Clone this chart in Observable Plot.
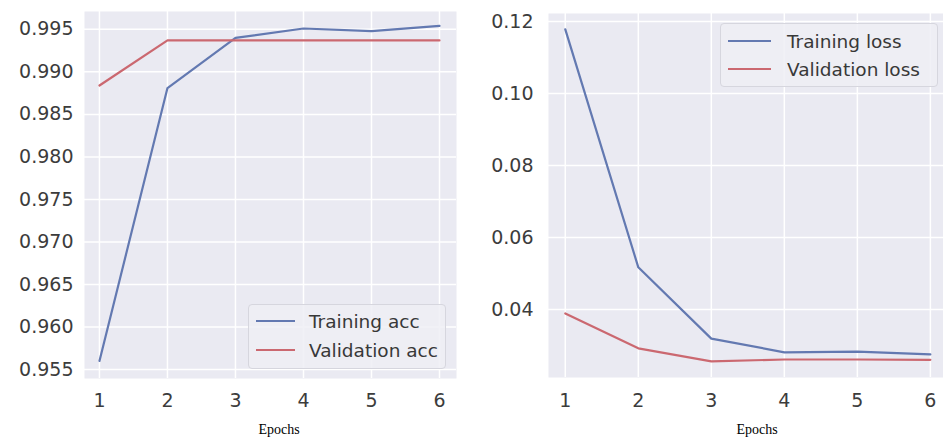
<!DOCTYPE html>
<html><head><meta charset="utf-8">
<script src="https://cdn.jsdelivr.net/npm/d3@7"></script>
<script src="https://cdn.jsdelivr.net/npm/@observablehq/plot@0.6"></script>
<style>
body{margin:0;background:#fff;}
#wrap{position:relative;width:943px;height:442px;overflow:hidden;font-family:"DejaVu Sans",sans-serif;}
.panel{position:absolute;top:0;}
.legend{position:absolute;box-sizing:border-box;border:1px solid #d6d6de;border-radius:4px;background:rgba(238,238,244,0.85);}
.row{position:absolute;left:0;height:28px;display:flex;align-items:center;font-size:18.5px;color:#383838;white-space:nowrap;}
.sw{display:inline-block;height:2px;}
.xl{position:absolute;font-family:"Liberation Serif",serif;font-size:14px;color:#000;transform:translate(-50%,-50%);}
</style></head>
<body><div id="wrap"></div>
<script>
const epochs = [1, 2, 3, 4, 5, 6];
const trainAcc = [0.9560, 0.9881, 0.9940, 0.9951, 0.9948, 0.9954];
const valAcc = [0.9884, 0.9937, 0.9937, 0.9937, 0.9937, 0.9937];
const trainLoss = [0.1178, 0.0517, 0.0319, 0.0281, 0.0283, 0.0275];
const valLoss = [0.0389, 0.0292, 0.0256, 0.0261, 0.0261, 0.0260];
const accTicks = [0.955, 0.960, 0.965, 0.970, 0.975, 0.980, 0.985, 0.990, 0.995];
const lossTicks = [0.04, 0.06, 0.08, 0.10, 0.12];
const accLabels = ["Training acc", "Validation acc"];
const lossLabels = ["Training loss", "Validation loss"];
const xLabel = "Epochs";

const BLUE = "#6379b1", RED = "#cb6870", BG = "#eaeaf2";
const wrap = document.getElementById("wrap");

function table(vals, series){ return epochs.map((e,i)=>({epoch:e, value:vals[i], series})); }

function panel(opts){
  const rows = [...table(opts.a, opts.labels[0]), ...table(opts.b, opts.labels[1])];
  const p = Plot.plot({
    width: opts.width, height: 442,
    marginLeft: opts.ml, marginRight: opts.mr, marginTop: opts.mt, marginBottom: opts.mb,
    x: {domain: opts.xd},
    y: {domain: opts.yd},
    color: {domain: opts.labels, range: [BLUE, RED]},
    style: {fontFamily: "DejaVu Sans", fontSize: "19px", color: "#3c3c3c", background: "transparent", overflow: "visible"},
    marks: [
      Plot.frame({fill: BG, stroke: "none"}),
      Plot.gridX(epochs, {stroke: "white", strokeOpacity: 1, strokeWidth: 1.5}),
      Plot.gridY(opts.ticks, {stroke: "white", strokeOpacity: 1, strokeWidth: 1.5}),
      Plot.axisX(epochs, {tickSize: 0, tickPadding: opts.xpad, label: null, fontSize: 19}),
      Plot.axisY(opts.ticks, {tickSize: 0, tickPadding: opts.ypad, label: null, fontSize: 19, tickFormat: opts.fmt}),
      Plot.line(rows, {x: "epoch", y: "value", stroke: "series", z: "series", strokeWidth: 2.2})
    ]
  });
  const div = document.createElement("div");
  div.className = "panel"; div.style.left = opts.left + "px";
  div.appendChild(p);
  wrap.appendChild(div);

  const lg = document.createElement("div");
  lg.className = "legend";
  Object.assign(lg.style, {left: opts.lg.x+"px", top: opts.lg.y+"px", width: opts.lg.w+"px", height: opts.lg.h+"px"});
  opts.labels.forEach((lab, i) => {
    const r = document.createElement("div");
    r.className = "row";
    r.style.top = (opts.lg.r0 + i*opts.lg.dr - 14) + "px";
    r.style.left = opts.lg.lx + "px";
    const sw = document.createElement("span");
    sw.className = "sw";
    sw.style.width = opts.lg.lw + "px";
    sw.style.background = [BLUE, RED][i];
    sw.style.marginRight = opts.lg.gap + "px";
    r.appendChild(sw);
    r.appendChild(document.createTextNode(lab));
    lg.appendChild(r);
  });
  wrap.appendChild(lg);

  const xl = document.createElement("div");
  xl.className = "xl"; xl.textContent = xLabel;
  xl.style.left = opts.xlx + "px"; xl.style.top = "430px";
  wrap.appendChild(xl);
}

panel({
  left: 0, width: 470, ml: 84, mr: 14, mt: 11, mb: 64,
  xd: [0.78, 6.25], yd: [0.95394, 0.9971],
  ticks: accTicks, fmt: d3.format(".3f"), xpad: 15, ypad: 11,
  a: trainAcc, b: valAcc, labels: accLabels,
  lg: {x: 248, y: 304, w: 198, h: 65, r0: 16, dr: 29, lx: 7, lw: 39, gap: 14},
  xlx: 279
});
panel({
  left: 470, width: 473, ml: 78, mr: 0, mt: 13, mb: 65,
  xd: [0.77, 6.18], yd: [0.0211, 0.1222],
  ticks: lossTicks, fmt: d3.format(".2f"), xpad: 16, ypad: 15,
  a: trainLoss, b: valLoss, labels: lossLabels,
  lg: {x: 720, y: 23, w: 218, h: 64, r0: 17, dr: 28, lx: 7, lw: 43, gap: 16},
  xlx: 757
});
</script></body></html>
